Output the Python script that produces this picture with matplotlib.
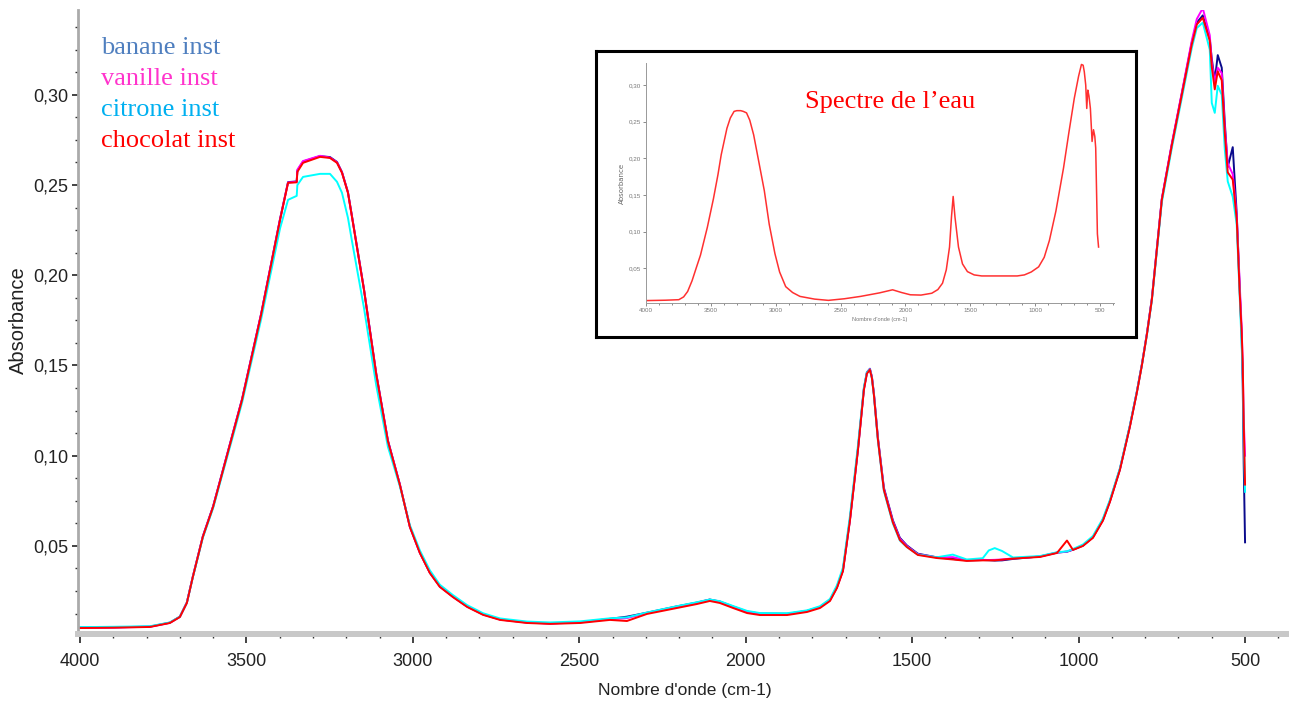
import matplotlib
matplotlib.use('Agg')
import matplotlib.pyplot as plt
from matplotlib.ticker import MultipleLocator, FuncFormatter

# ==========================================
# DATA
# ==========================================
WN = [4000, 3900, 3790, 3730, 3700, 3679, 3661, 3631, 3600, 3570, 3540, 3513, 3456,
      3399, 3375, 3349, 3347, 3330, 3279, 3249, 3228, 3213, 3195, 3183, 3147, 3110,
      3075, 3039, 3009, 2979, 2949, 2919, 2880, 2837, 2789, 2738, 2657, 2588, 2498,
      2408, 2357, 2297, 2207, 2147, 2108, 2078, 2038, 1996, 1957, 1876, 1816, 1777,
      1747, 1726, 1708, 1687, 1663, 1645, 1636, 1627, 1621, 1615, 1603, 1585, 1558, 1537, 1516,
      1483, 1426, 1378, 1336, 1288, 1270, 1252, 1230, 1197, 1116, 1065, 1035, 1017,
      987, 957, 927, 906, 876, 846, 825, 810, 795, 780, 750, 720, 687, 660, 645,
      627, 606, 600, 591, 582, 570, 561, 552, 537, 525, 516, 510, 507, 504, 500]

chocolat = [.0045, .0047, .0051, .0073, .0106, .0184, .0328, .0550, .0717, .0921, .1126, .1310, .1780,
            .2307, .2512, .2515, .2573, .2623, .2656, .2650, .2623, .2568, .2457, .2324, .1920, .1450,
            .1080, .0838, .0605, .0461, .0350, .0273, .0217, .0162, .0118, .0090, .0073, .0068, .0073,
            .0090, .0084, .0123, .0156, .0178, .0195, .0184, .0156, .0128, .0117, .0117, .0134, .0156,
            .0195, .0267, .0360, .0640, .1030, .1365, .1455, .1476, .1430, .1337, .1090, .0810, .0630, .0533, .0494,
            .0450, .0433, .0425, .0417, .0420, .0420, .0420, .0424, .0430, .0439, .0461, .0530, .0478,
            .0500, .0545, .0640, .0744, .0921, .1160, .1350, .1500, .1670, .1864, .2418, .2720, .3028, .3280, .3390,
            .3427, .3300, .3155, .3030, .3130, .3080, .2790, .2570, .2530, .2310, .1900, .1680, .1510, .1180, .0840]

banane = [.0048, .0049, .0053, .0075, .0108, .0186, .0330, .0553, .0720, .0925, .1130, .1315, .1785,
          .2312, .2516, .2520, .2580, .2630, .2660, .2655, .2628, .2572, .2460, .2328, .1925, .1455,
          .1085, .0840, .0607, .0463, .0352, .0276, .0220, .0165, .0121, .0093, .0076, .0071, .0077,
          .0096, .0108, .0130, .0165, .0186, .0203, .0192, .0164, .0136, .0125, .0124, .0140, .0162,
          .0200, .0272, .0366, .0646, .1036, .1372, .1462, .1482, .1437, .1345, .1100, .0822, .0642, .0545, .0503,
          .0457, .0437, .0428, .0420, .0422, .0421, .0419, .0420, .0428, .0442, .0463, .0468, .0479,
          .0502, .0548, .0645, .0748, .0925, .1165, .1355, .1505, .1675, .1870, .2422, .2725, .3035, .3290, .3400,
          .3440, .3310, .3200, .3080, .3220, .3150, .2850, .2600, .2710, .2340, .1920, .1650, .1400, .0950, .0520]

vanille = [.0046, .0048, .0052, .0074, .0107, .0186, .0330, .0552, .0719, .0924, .1130, .1314, .1784,
           .2310, .2514, .2518, .2585, .2633, .2662, .2652, .2626, .2570, .2458, .2326, .1922, .1452,
           .1082, .0840, .0606, .0462, .0352, .0275, .0219, .0164, .0120, .0092, .0075, .0070, .0076,
           .0094, .0100, .0128, .0163, .0184, .0202, .0190, .0163, .0135, .0124, .0123, .0139, .0161,
           .0199, .0271, .0365, .0645, .1035, .1370, .1460, .1480, .1434, .1342, .1096, .0816, .0636, .0540, .0499,
           .0454, .0436, .0438, .0421, .0423, .0422, .0423, .0425, .0431, .0441, .0463, .0469, .0480,
           .0503, .0548, .0644, .0748, .0925, .1164, .1354, .1504, .1674, .1868, .2425, .2730, .3040, .3300, .3420,
           .3480, .3330, .3180, .3070, .3150, .3120, .2820, .2620, .2560, .2330, .1950, .1700, .1500, .1200, .1000]

citrone = [.0050, .0052, .0055, .0076, .0108, .0185, .0326, .0545, .0710, .0912, .1112, .1295, .1755,
           .2260, .2418, .2440, .2500, .2545, .2562, .2562, .2518, .2457, .2318, .2190, .1820, .1390,
           .1050, .0830, .0615, .0475, .0365, .0285, .0228, .0172, .0127, .0098, .0081, .0076, .0082,
           .0099, .0104, .0131, .0166, .0188, .0203, .0194, .0167, .0140, .0128, .0127, .0143, .0166,
           .0206, .0282, .0380, .0665, .1055, .1380, .1462, .1478, .1428, .1335, .1085, .0805, .0625, .0530, .0494,
           .0452, .0437, .0452, .0425, .0432, .0475, .0488, .0472, .0436, .0444, .0465, .0470, .0483,
           .0508, .0555, .0652, .0755, .0930, .1168, .1355, .1502, .1668, .1860, .2405, .2705, .3010, .3260, .3370,
           .3400, .3250, .2955, .2900, .3050, .3000, .2700, .2520, .2435, .2280, .1880, .1600, .1450, .1100, .0800]

# water spectrum (inset)
INSET_WN = [3995, 3850, 3747, 3710, 3679, 3645, 3610, 3580, 3527, 3480, 3445, 3420, 3376, 3350,
            3321, 3300, 3270, 3250, 3225, 3200, 3170, 3130, 3088, 3050, 3006, 2970, 2923, 2870,
            2813, 2700, 2594, 2470, 2346, 2200, 2099, 2030, 1962, 1880, 1797, 1750, 1714, 1685,
            1660, 1645, 1632, 1618, 1591, 1560, 1522, 1470, 1412, 1300, 1138, 1083, 1030, 973, 930,
            890, 840, 781, 740, 698, 665, 643, 630, 621, 610, 602, 594, 585, 574, 561, 550, 540,
            533, 528, 520, 511]
INSET_ABS = [.0060, .0065, .0072, .0110, .0184, .0330, .0520, .0680, .1060, .1450, .1780, .2050, .2410, .2550,
             .2640, .2650, .2650, .2640, .2620, .2520, .2320, .1950, .1560, .1100, .0700, .0450, .0250, .0170,
             .0117, .0080, .0063, .0085, .0117, .0165, .0207, .0170, .0139, .0135, .0160, .0210, .0297, .0480,
             .0790, .1200, .1480, .1200, .0790, .0560, .0455, .0410, .0396, .0396, .0396, .0410, .0450, .0520, .0650,
             .0880, .1280, .1870, .2350, .2820, .3120, .3280, .3270, .3180, .3000, .2680, .2930, .2850, .2680, .2230, .2390, .2300,
             .2140, .1690, .0970, .0790]

SERIES = [('banane inst', banane, '#0A0A8C', '#4F7FBF'),
          ('vanille inst', vanille, '#FF00FF', '#FF33CC'),
          ('citrone inst', citrone, '#00FFFF', '#00B0F0'),
          ('chocolat inst', chocolat, '#FF0000', '#FF0000')]

TICKFONT = ['Liberation Sans', 'DejaVu Sans']
comma = FuncFormatter(lambda v, p: f'{v:.2f}'.replace('.', ','))

fig = plt.figure(figsize=(12.96, 7.04), dpi=100)

# ==========================================
# MAIN AXES
# ==========================================
ax = fig.add_axes([78 / 1296, 1 - 634 / 704, 1208 / 1296, 624 / 704])
for name, vals, lc, tc in SERIES:
    ax.plot(WN, vals, color=lc, lw=1.4)

ax.set_xlim(4006, 377)
ax.set_ylim(0.0012, 0.347)
for s in ['top', 'right']:
    ax.spines[s].set_visible(False)
ax.spines['left'].set_color('#AAAAAA')
ax.spines['left'].set_linewidth(2)
ax.spines['bottom'].set_color('#C8C8C8')
ax.spines['bottom'].set_linewidth(4.3)

ax.xaxis.set_major_locator(MultipleLocator(500))
ax.xaxis.set_minor_locator(MultipleLocator(100))
ax.yaxis.set_major_locator(MultipleLocator(0.05))
ax.yaxis.set_minor_locator(MultipleLocator(0.0125))
ax.yaxis.set_major_formatter(comma)
ax.tick_params(axis='x', which='major', length=6.5, width=1.2, color='#222222', pad=7)
ax.tick_params(axis='x', which='minor', length=3, width=1, color='#333333')
ax.tick_params(axis='y', which='major', length=4, width=1.2, color='#222222', pad=3)
ax.tick_params(axis='y', which='minor', length=2, width=1, color='#333333')
for lab in ax.get_xticklabels() + ax.get_yticklabels():
    lab.set_family(TICKFONT)
    lab.set_fontsize(13)
    lab.set_color('#222222')

fig.text(18 / 1296, 1 - 320 / 704, 'Absorbance', rotation=90, ha='center', va='center',
         fontsize=14.5, family='Liberation Sans', color='#222222')
fig.text(685 / 1296, 1 - 691 / 704, "Nombre d'onde (cm-1)", ha='center', va='center',
         fontsize=12.5, family=TICKFONT, color='#222222')

# legend as coloured text
for i, (name, vals, lc, tc) in enumerate(SERIES):
    fig.text(101 / 1296, 1 - (54 + 31 * i) / 704, name, ha='left', va='baseline',
             fontsize=19, family='Liberation Serif', color=tc)

# ==========================================
# INSET (water spectrum)
# ==========================================
box = fig.add_axes([596 / 1296, 1 - 337 / 704, 540 / 1296, 286 / 704])
box.set_xticks([])
box.set_yticks([])
box.patch.set_alpha(0)
for s in box.spines.values():
    s.set_linewidth(2.2)
    s.set_color('black')

ins = fig.add_axes([646 / 1296, 1 - 303 / 704, 468 / 1296, 240 / 704])
ins.plot(INSET_WN, INSET_ABS, color='#FF3030', lw=1.1)
ins.set_xlim(4000, 392)
ins.set_ylim(0.0027, 0.33)
for s in ['top', 'right']:
    ins.spines[s].set_visible(False)
for s in ['left', 'bottom']:
    ins.spines[s].set_color('#999999')
    ins.spines[s].set_linewidth(0.7)
ins.xaxis.set_major_locator(MultipleLocator(500))
ins.xaxis.set_minor_locator(MultipleLocator(100))
ins.yaxis.set_major_locator(MultipleLocator(0.05))
ins.yaxis.set_major_formatter(comma)
ins.tick_params(which='both', colors='#777777', labelsize=4.5, length=2, width=0.6, pad=1.5)
ins.tick_params(which='minor', length=1.2)
for lab in ins.get_xticklabels() + ins.get_yticklabels():
    lab.set_family(TICKFONT)
ins.set_ylabel('Absorbance', fontsize=5, color='#666666', labelpad=3)
ins.set_xlabel("Nombre d'onde (cm-1)", fontsize=4, color='#777777', labelpad=3, family=TICKFONT)
fig.text(890 / 1296, 1 - 108 / 704, 'Spectre de l\u2019eau', ha='center', va='baseline',
         fontsize=19, family='Liberation Serif', color='#FF0000')

fig.savefig('out.png', dpi=100)
